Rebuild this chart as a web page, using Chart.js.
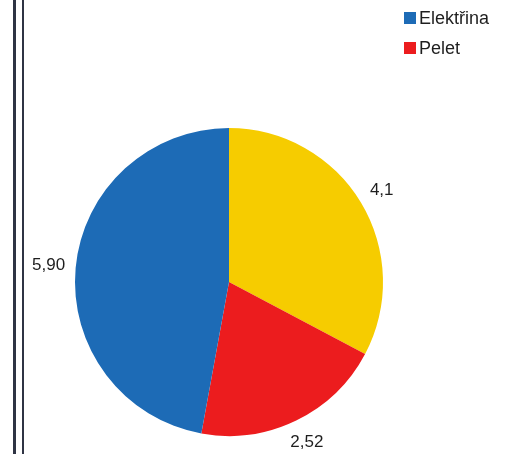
<!DOCTYPE html>
<html>
<head>
<meta charset="utf-8">
<script src="https://cdn.jsdelivr.net/npm/chart.js@4"></script>
<style>
  html, body { margin: 0; padding: 0; background: #fff; }
  #wrap { position: relative; width: 518px; height: 454px; overflow: hidden; }
  #chart { position: absolute; left: 0; top: 0; }
  .vline { position: absolute; top: 0; height: 454px; background: #2f3444; }
</style>
</head>
<body>
<div id="wrap">
  <div class="vline" style="left:13px;width:3px;"></div>
  <div class="vline" style="left:22px;width:2px;"></div>
  <canvas id="chart" width="518" height="454"></canvas>
</div>
<script>
// Data
const categories = ["Plyn", "Pelet", "Elektřina"];
const values = [4.1, 2.52, 5.9];
const valueLabels = ["4,1", "2,52", "5,90"];
const sliceColors = ["#f6cc00", "#ec1c1e", "#1d6bb6"];
const legendCategories = ["Elektřina", "Pelet"];

const FONT = '"Liberation Sans", Arial, sans-serif';

const outsideLabels = {
  id: 'outsideLabels',
  afterDatasetsDraw(chart) {
    const ctx = chart.ctx;
    const meta = chart.getDatasetMeta(0);
    ctx.save();
    ctx.font = '17px ' + FONT;
    ctx.fillStyle = '#1e1e1e';
    ctx.textAlign = 'center';
    ctx.textBaseline = 'middle';
    meta.data.forEach((arc, i) => {
      const p = arc.getProps(['x', 'y', 'startAngle', 'endAngle', 'outerRadius'], true);
      const mid = (p.startAngle + p.endAngle) / 2;
      const txt = valueLabels[i];
      const w = ctx.measureText(txt).width;
      const h = 16;
      const k = 10 + (w / 2) * Math.abs(Math.cos(mid)) + (h / 2) * Math.abs(Math.sin(mid));
      const r = p.outerRadius + k;
      ctx.fillText(txt, p.x + Math.cos(mid) * r, p.y + Math.sin(mid) * r);
    });
    ctx.restore();
  }
};

const cornerLegend = {
  id: 'cornerLegend',
  afterDraw(chart) {
    const ctx = chart.ctx;
    ctx.save();
    ctx.font = '18px ' + FONT;
    ctx.textBaseline = 'middle';
    ctx.textAlign = 'left';
    legendCategories.forEach((name, j) => {
      const idx = categories.indexOf(name);
      const cy = 18 + j * 30;
      ctx.fillStyle = chart.data.datasets[0].backgroundColor[idx];
      ctx.fillRect(404, cy - 6, 12, 12);
      ctx.fillStyle = '#1e1e1e';
      ctx.fillText(name, 419, cy + 1);
    });
    ctx.restore();
  }
};

new Chart(document.getElementById('chart'), {
  type: 'pie',
  data: {
    labels: categories,
    datasets: [{
      data: values,
      backgroundColor: sliceColors,
      borderWidth: 0
    }]
  },
  options: {
    responsive: false,
    animation: false,
    layout: { padding: { left: 75, right: 135, top: 128, bottom: 18 } },
    plugins: {
      legend: { display: false },
      tooltip: { enabled: false }
    }
  },
  plugins: [outsideLabels, cornerLegend]
});
</script>
</body>
</html>
